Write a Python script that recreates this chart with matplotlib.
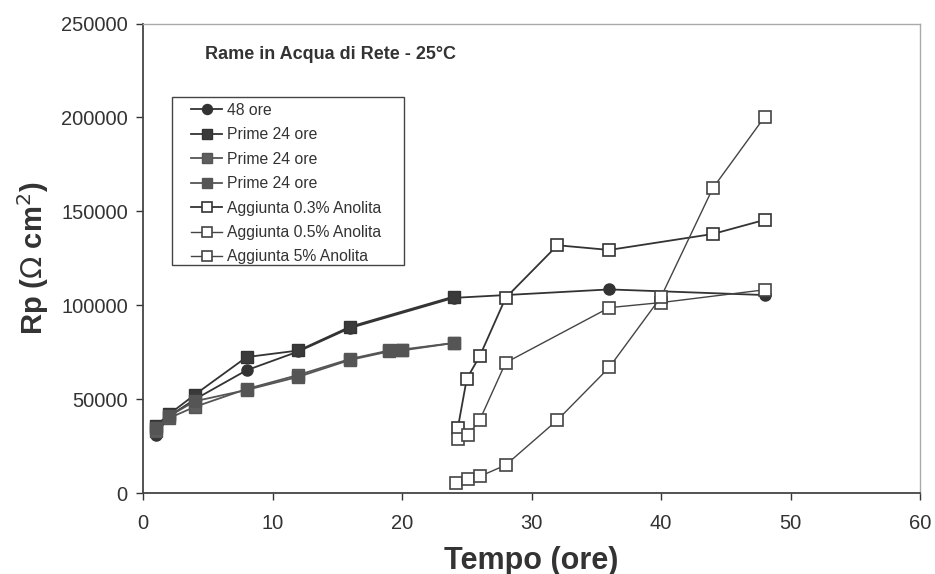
import matplotlib.pyplot as plt
from matplotlib.patches import Rectangle

plt.rcParams['font.family'] = ['Liberation Sans', 'DejaVu Sans']

# tempo (ore) e Rp (ohm cm2)
t_48 = [1, 2, 4, 8, 12, 16, 24, 36, 48]
rp_48 = [31000, 41000, 50000, 65500, 75500, 88000, 104000, 108500, 105500]

t_p1 = [1, 2, 4, 8, 12, 16, 24]
rp_p1 = [36000, 42000, 52500, 72500, 76000, 88700, 104700]

t_p2 = [1, 2, 4, 8, 12, 16, 19, 20, 24]
rp_p2 = [33000, 40000, 46000, 55500, 63000, 71500, 76000, 76500, 80000]

t_p3 = [1, 2, 4, 8, 12, 16, 19, 20, 24]
rp_p3 = [34500, 41000, 49000, 55000, 62000, 71000, 75500, 76000, 80000]

t_a03 = [24.3, 25, 26, 28, 32, 36, 44, 48]
rp_a03 = [34500, 61000, 73000, 104000, 132000, 129500, 138000, 145500]

t_a05 = [24.3, 25.1, 26, 28, 36, 40, 48]
rp_a05 = [28800, 31000, 39000, 69500, 98800, 101500, 108300]

t_a5 = [24.2, 25.1, 26, 28, 32, 36, 40, 44, 48]
rp_a5 = [5500, 7500, 9000, 15000, 39000, 67000, 104500, 162400, 200300]

fig = plt.figure(figsize=(9.35, 5.74), dpi=100)
ax = fig.add_axes([0.153, 0.1406, 0.831, 0.8184])

dark = '#333333'
grey = '#555555'
ms = 8

ax.plot(t_48, rp_48, '-o', color=dark, mfc=dark, mec=dark, ms=ms, lw=1.3, label='48 ore')
ax.plot(t_p1, rp_p1, '-s', color=dark, mfc='#3a3a3a', mec=dark, ms=ms, lw=1.3, label='Prime 24 ore')
ax.plot(t_p2, rp_p2, '-s', color=grey, mfc='#5e5e5e', mec=grey, ms=ms, lw=1.3, label='Prime 24 ore')
ax.plot(t_p3, rp_p3, '-s', color=grey, mfc='#555555', mec=grey, ms=ms, lw=1.3, label='Prime 24 ore')
ax.plot(t_a03, rp_a03, '-s', color=dark, mfc='white', mec=dark, mew=1.2, ms=ms, lw=1.3,
        label='Aggiunta 0.3% Anolita')
ax.plot(t_a05, rp_a05, '-s', color='#444444', mfc='white', mec='#444444', mew=1.2, ms=ms, lw=1.0,
        label='Aggiunta 0.5% Anolita')
ax.plot(t_a5, rp_a5, '-s', color='#444444', mfc='white', mec='#444444', mew=1.2, ms=ms, lw=1.0,
        label='Aggiunta 5% Anolita')

ax.set_xlim(0, 60)
ax.set_ylim(0, 250000)
ax.set_xticks(range(0, 61, 10))
ax.set_yticks(range(0, 250001, 50000))
ax.tick_params(direction='out', length=5, width=1, colors=dark, labelsize=14.5, pad=6)
ax.tick_params(axis='x', pad=10)

for s in ['left', 'bottom']:
    ax.spines[s].set_color('#444444')
    ax.spines[s].set_linewidth(1.3)
for s in ['top', 'right']:
    ax.spines[s].set_color('#aaaaaa')
    ax.spines[s].set_linewidth(1.0)

ax.set_xlabel('Tempo (ore)', fontsize=22, fontweight='bold', color=dark, labelpad=9)
ax.set_ylabel('Rp ($\\Omega$ cm$^2$)', fontsize=21, fontweight='bold', color=dark, labelpad=7)

ax.text(0.2416, 0.9245, 'Rame in Acqua di Rete - 25°C', transform=ax.transAxes,
        ha='center', va='baseline', fontsize=13, fontweight='bold', color=dark)

# legend box drawn separately (wide side padding as in the original)
ax.add_patch(Rectangle((0.0377, 0.486), 0.298, 0.358, transform=ax.transAxes,
                       facecolor='white', edgecolor='#444444', lw=1.0, zorder=4))
leg = ax.legend(loc='upper left', bbox_to_anchor=(0.062, 0.831), fontsize=11.3,
                frameon=False, labelspacing=0.6, borderpad=0, borderaxespad=0,
                handlelength=1.95, handletextpad=0.3, markerscale=0.9)
leg.set_zorder(5)
for txt in leg.get_texts():
    txt.set_color(dark)

fig.savefig('out.png', dpi=100)
